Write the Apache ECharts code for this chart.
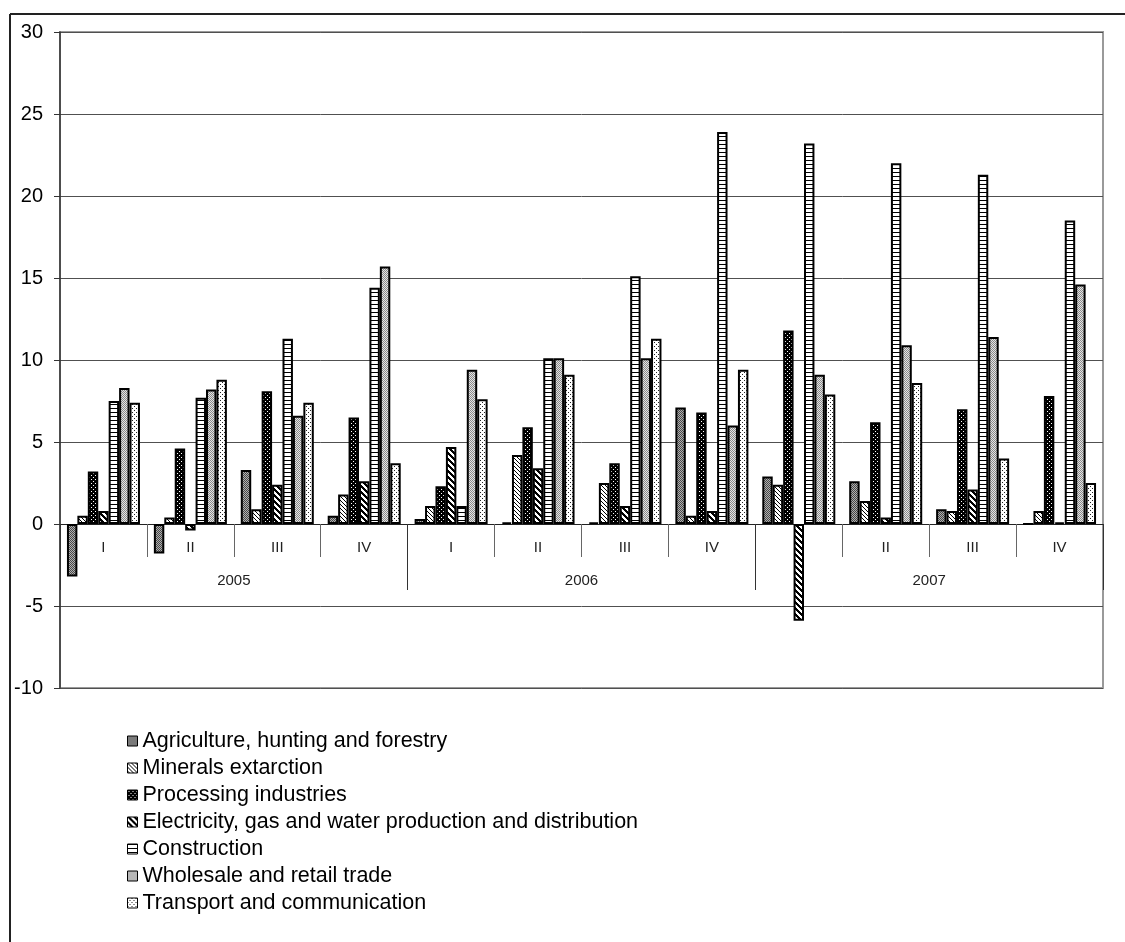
<!DOCTYPE html>
<html>
<head>
<meta charset="utf-8">
<script src="https://cdn.jsdelivr.net/npm/echarts@6/dist/echarts.min.js"></script>
<style>
  html, body { margin: 0; padding: 0; background: #fff; }
  #chart { width: 1125px; height: 942px; }
</style>
</head>
<body>
<div id="chart"></div>
<script>
// Quarterly growth by industry, 2005–2007
const quarters = ['I', 'II', 'III', 'IV', 'I', 'II', 'III', 'IV', 'I', 'II', 'III', 'IV'];
const years = ['2005', '2006', '2007'];
const yTicks = { min: -10, max: 30, step: 5 };

const agriculture  = [-3.2, -1.8, 3.3, 0.5,  0.3, 0.1, 0.1, 7.1,  2.9, 2.6, 0.9, 0];
const minerals     = [0.5, 0.4, 0.9, 1.8,  1.1, 4.2, 2.5, 0.5,  2.4, 1.4, 0.8, 0.8];
const processing   = [3.2, 4.6, 8.1, 6.5,  2.3, 5.9, 3.7, 6.8,  11.8, 6.2, 7.0, 7.8];
const electricity  = [0.8, -0.4, 2.4, 2.6,  4.7, 3.4, 1.1, 0.8,  -5.9, 0.4, 2.1, 0.1];
const construction = [7.5, 7.7, 11.3, 14.4,  1.1, 10.1, 15.1, 23.9,  23.2, 22.0, 21.3, 18.5];
const trade        = [8.3, 8.2, 6.6, 15.7,  9.4, 10.1, 10.1, 6.0,  9.1, 10.9, 11.4, 14.6];
const transport    = [7.4, 8.8, 7.4, 3.7,  7.6, 9.1, 11.3, 9.4,  7.9, 8.6, 4.0, 2.5];

const seriesNames = [
  'Agriculture, hunting and forestry',
  'Minerals extarction',
  'Processing industries',
  'Electricity, gas and water production and distribution',
  'Construction',
  'Wholesale and retail trade',
  'Transport and communication'
];

// Small repeating tiles used as monochrome hatch fills
function tile(w, h, bg, fg, pixels) {
  const c = document.createElement('canvas');
  c.width = w; c.height = h;
  const g = c.getContext('2d');
  g.fillStyle = bg; g.fillRect(0, 0, w, h);
  g.fillStyle = fg;
  pixels.forEach(p => g.fillRect(p[0], p[1], p[2] || 1, p[3] || 1));
  return { image: c, repeat: 'repeat' };
}
function diag(size, thick) {
  const px = [];
  for (let i = 0; i < size; i++) {
    for (let t = 0; t < thick; t++) px.push([(i + t) % size, i]);
  }
  return px;
}

const fills = [
  tile(2, 2, '#b0b0b0', '#474747', [[0, 0], [1, 1]]),
  tile(4, 4, '#ffffff', '#000000', diag(4, 1)),
  tile(4, 4, '#000000', '#ffffff', [[1, 1], [3, 3]]),
  tile(6, 6, '#ffffff', '#000000', diag(6, 3)),
  tile(1, 4, '#ffffff', '#000000', [[0, 0]]),
  tile(2, 2, '#e4e4e4', '#8a8a8a', [[0, 0], [1, 1]]),
  tile(4, 4, '#ffffff', '#222222', [[0, 0], [2, 2]])
];

const dataSets = [agriculture, minerals, processing, electricity, construction, trade, transport];
const FONT = 'Liberation Sans, Arial, sans-serif';

// Plot box in pixels; the category axes sit on the zero line of the value axis
const GRID = { left: 60, right: 22, top: 32, bottom: 254 };
const plotH = 942 - GRID.top - GRID.bottom;
const zeroShift = -plotH * (0 - yTicks.min) / (yTicks.max - yTicks.min);

const chart = echarts.init(document.getElementById('chart'));
chart.setOption({
  animation: false,
  backgroundColor: '#ffffff',
  textStyle: { fontFamily: FONT },
  grid: Object.assign({
    show: true, borderColor: '#9a9a9a', borderWidth: 2,
    containLabel: false
  }, GRID),
  legend: {
    orient: 'vertical',
    left: 127, top: 730, padding: 0,
    icon: 'rect',
    itemWidth: 10, itemHeight: 10, itemGap: 5,
    itemStyle: { borderColor: '#000', borderWidth: 1 },
    textStyle: { fontSize: 21.5, color: '#000', fontFamily: FONT },
    data: seriesNames
  },
  xAxis: [
    {
      type: 'category',
      data: quarters,
      position: 'bottom',
      offset: zeroShift,
      axisLine: { onZero: false, lineStyle: { color: '#222', width: 1 } },
      axisTick: { show: true, interval: 0, length: 33, lineStyle: { color: '#666' } },
      axisLabel: { interval: 0, fontSize: 15, color: '#222', margin: 16, fontFamily: FONT },
      splitLine: { show: false }
    },
    {
      type: 'category',
      data: years,
      position: 'bottom',
      offset: zeroShift,
      axisLine: { show: false, onZero: false },
      axisTick: { show: true, interval: 0, length: 66, lineStyle: { color: '#333' } },
      axisLabel: { interval: 0, fontSize: 15, color: '#222', margin: 49, fontFamily: FONT },
      splitLine: { show: false }
    }
  ],
  yAxis: {
    type: 'value',
    min: yTicks.min, max: yTicks.max, interval: yTicks.step,
    axisLine: { show: true, lineStyle: { color: '#333', width: 1.5 } },
    axisTick: { show: true, length: 6, lineStyle: { color: '#333' } },
    axisLabel: { fontSize: 20, color: '#000', margin: 17, fontFamily: FONT },
    splitLine: { show: true, lineStyle: { color: '#505050', width: 1 } }
  },
  graphic: [
    { type: 'line', shape: { x1: 10, y1: 14, x2: 1125, y2: 14 }, style: { stroke: '#222', lineWidth: 2 } },
    { type: 'line', shape: { x1: 10, y1: 14, x2: 10, y2: 942 }, style: { stroke: '#222', lineWidth: 2 } }
  ],
  series: dataSets.map((d, i) => ({
    name: seriesNames[i],
    type: 'bar',
    xAxisIndex: 0,
    data: d,
    barGap: '0%',
    barCategoryGap: '16%',
    itemStyle: { color: fills[i], borderColor: '#000', borderWidth: 2 },
    emphasis: { disabled: true }
  }))
});
</script>
</body>
</html>
